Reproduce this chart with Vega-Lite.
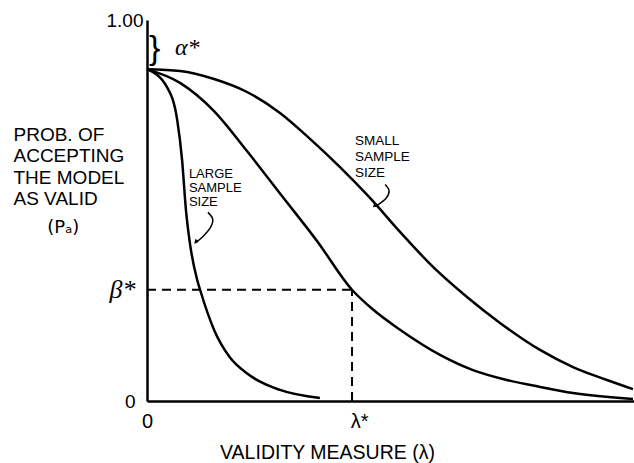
{
  "$schema": "https://vega.github.io/schema/vega-lite/v6.json",
  "width": 487,
  "height": 381,
  "autosize": "none",
  "padding": {"left": 147, "top": 20, "right": 0, "bottom": 62},
  "background": "white",
  "config": {"view": {"stroke": null}},
  "datasets": {
    "curves": [
      {"s": "large", "x": 0, "y": 0.871}, {"s": "large", "x": 0.41, "y": 0.824}, {"s": "large", "x": 0.62, "y": 0.738},
      {"s": "large", "x": 0.72, "y": 0.633}, {"s": "large", "x": 0.8, "y": 0.501}, {"s": "large", "x": 0.88, "y": 0.415},
      {"s": "large", "x": 1.03, "y": 0.318}, {"s": "large", "x": 1.09, "y": 0.292}, {"s": "large", "x": 1.38, "y": 0.186},
      {"s": "large", "x": 1.7, "y": 0.115}, {"s": "large", "x": 2.05, "y": 0.073}, {"s": "large", "x": 2.73, "y": 0.029},
      {"s": "large", "x": 3.55, "y": 0.008},
      {"s": "middle", "x": 0, "y": 0.871}, {"s": "middle", "x": 0.678, "y": 0.835}, {"s": "middle", "x": 1.376, "y": 0.761},
      {"s": "middle", "x": 2.053, "y": 0.656}, {"s": "middle", "x": 2.772, "y": 0.538}, {"s": "middle", "x": 3.491, "y": 0.42},
      {"s": "middle", "x": 4.209, "y": 0.292}, {"s": "middle", "x": 4.641, "y": 0.24}, {"s": "middle", "x": 5.195, "y": 0.187},
      {"s": "middle", "x": 6.016, "y": 0.121}, {"s": "middle", "x": 6.694, "y": 0.081}, {"s": "middle", "x": 7.392, "y": 0.055},
      {"s": "middle", "x": 8.07, "y": 0.037}, {"s": "middle", "x": 8.747, "y": 0.021}, {"s": "middle", "x": 9.979, "y": 0.005},
      {"s": "small", "x": 0, "y": 0.871}, {"s": "small", "x": 0.678, "y": 0.866}, {"s": "small", "x": 1.376, "y": 0.845},
      {"s": "small", "x": 2.053, "y": 0.811}, {"s": "small", "x": 2.731, "y": 0.756}, {"s": "small", "x": 3.347, "y": 0.688},
      {"s": "small", "x": 3.963, "y": 0.614}, {"s": "small", "x": 4.579, "y": 0.533}, {"s": "small", "x": 5.195, "y": 0.444},
      {"s": "small", "x": 5.873, "y": 0.352}, {"s": "small", "x": 6.571, "y": 0.273}, {"s": "small", "x": 7.248, "y": 0.205},
      {"s": "small", "x": 8.07, "y": 0.134}, {"s": "small", "x": 8.747, "y": 0.089}, {"s": "small", "x": 9.446, "y": 0.055},
      {"s": "small", "x": 9.979, "y": 0.031}
    ],
    "dashes": [
      {"x": 0, "x2": 4.21, "y": 0.292, "y2": 0.292},
      {"x": 4.21, "x2": 4.21, "y": 0, "y2": 0.292}
    ],
    "notesLarge": [
      {"label": "LARGE", "x": 0.86, "y": 0.585},
      {"label": "SAMPLE", "x": 0.86, "y": 0.548},
      {"label": "SIZE", "x": 0.86, "y": 0.511}
    ],
    "notesSmall": [
      {"label": "SMALL", "x": 4.27, "y": 0.672},
      {"label": "SAMPLE", "x": 4.27, "y": 0.63},
      {"label": "SIZE", "x": 4.27, "y": 0.588}
    ],
    "alpha": [{"label": "α*", "x": 0.575, "y": 0.908}],
    "brace": [{"label": "}", "x": 0.04, "y": 0.925}],
    "pa": [{"label": "(Pₐ)", "x": -1.72, "y": 0.44}],
    "arrows": [
      {"a": "large", "i": 0, "x": 1.25, "y": 0.495}, {"a": "large", "i": 1, "x": 1.35, "y": 0.477},
      {"a": "large", "i": 2, "x": 1.3, "y": 0.455}, {"a": "large", "i": 3, "x": 1.15, "y": 0.432},
      {"a": "large", "i": 4, "x": 0.99, "y": 0.415},
      {"a": "small", "i": 0, "x": 4.89, "y": 0.568}, {"a": "small", "i": 1, "x": 4.97, "y": 0.552},
      {"a": "small", "i": 2, "x": 4.91, "y": 0.532}, {"a": "small", "i": 3, "x": 4.74, "y": 0.515},
      {"a": "small", "i": 4, "x": 4.66, "y": 0.511}
    ],
    "heads": [
      {"a": "large", "x": 0.97, "y": 0.413},
      {"a": "small", "x": 4.64, "y": 0.508}
    ]
  },
  "layer": [
    {
      "data": {"name": "curves"},
      "mark": {"type": "line", "interpolate": "monotone", "color": "black", "strokeWidth": 2.5},
      "encoding": {
        "x": {
          "field": "x", "type": "quantitative",
          "scale": {"domain": [0, 10], "nice": false, "zero": false},
          "axis": {
            "values": [0, 4.21],
            "labelExpr": "datum.value == 0 ? '0' : 'λ*'",
            "ticks": false, "grid": false,
            "domainColor": "black", "domainWidth": 2.5,
            "labelFont": "Liberation Sans", "labelFontSize": 20, "labelColor": "black",
            "labelPadding": 10,
            "labelOffset": {"condition": {"test": "datum.value > 1", "value": 7}, "value": 0},
            "labelFlush": false, "labelOverlap": false,
            "title": "VALIDITY MEASURE (λ)",
            "titleFont": "Liberation Sans", "titleFontSize": 19.5, "titleFontWeight": "normal", "titleColor": "black",
            "titleAlign": "center", "titleBaseline": "alphabetic", "titleX": 180, "titleY": 57
          }
        },
        "y": {
          "field": "y", "type": "quantitative",
          "scale": {"domain": [0, 1], "nice": false, "zero": false},
          "axis": {
            "values": [0, 0.292, 1],
            "labelExpr": "datum.value == 1 ? '1.00' : datum.value == 0 ? '0' : 'β*'",
            "ticks": false, "grid": false,
            "domainColor": "black", "domainWidth": 2.5,
            "labelFont": {"condition": {"test": "datum.value > 0.2 && datum.value < 0.5", "value": "Liberation Serif"}, "value": "Liberation Sans"},
            "labelFontStyle": {"condition": {"test": "datum.value > 0.2 && datum.value < 0.5", "value": "italic"}, "value": "normal"},
            "labelFontSize": {"condition": {"test": "datum.value > 0.2 && datum.value < 0.5", "value": 26}, "value": 19},
            "labelPadding": {"condition": {"test": "datum.value > 0.5", "value": 4}, "value": 12},
            "labelColor": "black", "labelFlush": false, "labelOverlap": false,
            "title": ["PROB. OF", "ACCEPTING", "THE MODEL", "AS VALID"],
            "titleAngle": 0, "titleAlign": "left", "titleBaseline": "alphabetic",
            "titleX": -134, "titleY": 120,
            "titleFont": "Liberation Sans", "titleFontSize": 19, "titleFontWeight": "normal", "titleColor": "black",
            "titleLineHeight": 21.5
          }
        },
        "detail": {"field": "s"}
      }
    },
    {
      "data": {"name": "dashes"},
      "mark": {"type": "rule", "color": "black", "strokeWidth": 2, "strokeDash": [9, 6]},
      "encoding": {
        "x": {"field": "x", "type": "quantitative"},
        "x2": {"field": "x2"},
        "y": {"field": "y", "type": "quantitative"},
        "y2": {"field": "y2"}
      }
    },
    {
      "data": {"name": "arrows"},
      "mark": {"type": "line", "interpolate": "cardinal", "color": "black", "strokeWidth": 1.5},
      "encoding": {
        "x": {"field": "x", "type": "quantitative"},
        "y": {"field": "y", "type": "quantitative"},
        "detail": {"field": "a"},
        "order": {"field": "i"}
      }
    },
    {
      "data": {"name": "heads"},
      "mark": {"type": "point", "shape": "M -0.7 1.4 L 0 0 L 0.7 1.4 Z", "filled": true, "color": "black", "size": 40, "angle": 220, "opacity": 1},
      "encoding": {
        "x": {"field": "x", "type": "quantitative"},
        "y": {"field": "y", "type": "quantitative"}
      }
    },
    {
      "data": {"name": "notesLarge"},
      "mark": {"type": "text", "font": "Liberation Sans", "fontSize": 13, "align": "left", "baseline": "alphabetic", "color": "black"},
      "encoding": {
        "x": {"field": "x", "type": "quantitative"},
        "y": {"field": "y", "type": "quantitative"},
        "text": {"field": "label"}
      }
    },
    {
      "data": {"name": "notesSmall"},
      "mark": {"type": "text", "font": "Liberation Sans", "fontSize": 13.5, "align": "left", "baseline": "alphabetic", "color": "black"},
      "encoding": {
        "x": {"field": "x", "type": "quantitative"},
        "y": {"field": "y", "type": "quantitative"},
        "text": {"field": "label"}
      }
    },
    {
      "data": {"name": "alpha"},
      "mark": {"type": "text", "font": "Liberation Serif", "fontStyle": "italic", "fontSize": 24, "align": "left", "baseline": "alphabetic", "color": "black"},
      "encoding": {
        "x": {"field": "x", "type": "quantitative"},
        "y": {"field": "y", "type": "quantitative"},
        "text": {"field": "label"}
      }
    },
    {
      "data": {"name": "brace"},
      "mark": {"type": "text", "font": "Liberation Sans", "fontSize": 34, "align": "left", "baseline": "middle", "color": "black"},
      "encoding": {
        "x": {"field": "x", "type": "quantitative"},
        "y": {"field": "y", "type": "quantitative"},
        "text": {"field": "label"}
      }
    },
    {
      "data": {"name": "pa"},
      "mark": {"type": "text", "font": "DejaVu Sans", "fontSize": 18, "align": "center", "baseline": "alphabetic", "color": "black"},
      "encoding": {
        "x": {"field": "x", "type": "quantitative"},
        "y": {"field": "y", "type": "quantitative"},
        "text": {"field": "label"}
      }
    }
  ]
}
